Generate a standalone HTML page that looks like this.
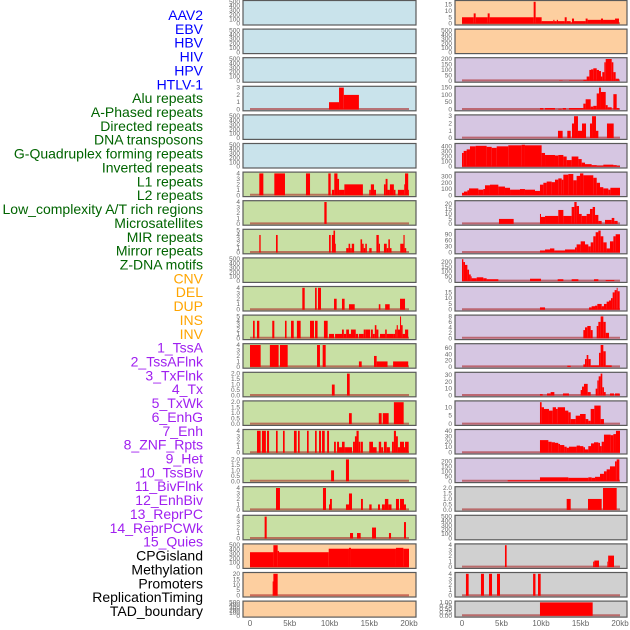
<!DOCTYPE html>
<html><head><meta charset="utf-8"><style>
html,body{margin:0;padding:0;background:#fff;}
svg{display:block;font-family:"Liberation Sans",sans-serif;}
</style></head><body>
<svg id="chart" width="630" height="630" viewBox="0 0 630 630" xmlns="http://www.w3.org/2000/svg"></svg>
<script>
const labels = ["AAV2","EBV","HBV","HIV","HPV","HTLV-1","Alu repeats","A-Phased repeats","Directed repeats","DNA transposons","G-Quadruplex forming repeats","Inverted repeats","L1 repeats","L2 repeats","Low_complexity A/T rich regions","Microsatellites","MIR repeats","Mirror repeats","Z-DNA motifs","CNV","DEL","DUP","INS","INV","1_TssA","2_TssAFlnk","3_TxFlnk","4_Tx","5_TxWk","6_EnhG","7_Enh","8_ZNF_Rpts","9_Het","10_TssBiv","11_BivFlnk","12_EnhBiv","13_ReprPC","14_ReprPCWk","15_Quies","CPGisland","Methylation","Promoters","ReplicationTiming","TAD_boundary"];
const labelGroups = ["virus","virus","virus","virus","virus","virus","repeat","repeat","repeat","repeat","repeat","repeat","repeat","repeat","repeat","repeat","repeat","repeat","repeat","sv","sv","sv","sv","sv","hmm","hmm","hmm","hmm","hmm","hmm","hmm","hmm","hmm","hmm","hmm","hmm","hmm","hmm","hmm","other","other","other","other","other"];
const groupColors = {virus:"#0000ff",repeat:"#006400",sv:"#ffa500",hmm:"#a020f0",other:"#000000"};
const panelBgs = {virus:"#c9e3eb",repeat:"#c8e0a4",sv:"#fdcfa0",hmm:"#d6c6e2",other:"#d0d0d0"};
const T500 = [0,100,200,300,400,500];
const panelTicks = [
T500,T500,T500,[0,1,2,3],T500,T500,[0,1,2,3,4],[0,1,2,3,4],[0,1,2,3,4,5],T500,
[0,1,2,3,4],[0,1,2,3,4,5],[0,1,2,3,4],[0,0.5,1,1.5,2],[0,0.5,1,1.5,2],[0,1,2,3,4],[0,0.5,1,1.5,2],[0,1,2,3,4],[0,1,2,3,4],T500,
[0,5,10,15,20],T500,
[0,5,10,15],T500,[0,50,100,150,200],[0,50,100,150],[0,1,2,3],[0,100,200,300,400],[0,100,200,300],[0,5,10,15,20],[0,30,60,90],[0,50,100,150,200],
[0,5,10,15],[0,2,4,6,8],[0,20,40,60],[0,10,20,30],[0,5,10],[0,10,20,30,40],[0,50,100,150,200],[0,0.5,1,1.5,2],T500,[0,1,2,3,4],[0,1,2,3,4],[0,0.25,0.5,0.75,1]];
// segments: [startKb, endKb, value]
const panelSeries = [
[],[],[],
[[9.94,11.2,1],[11.2,11.8,3],[11.8,13.7,2]],
[],[],
[[1.17,1.68,4],[3.06,4.4,4],[7.04,7.55,4],[9.85,10.15,4],[10.3,10.6,1],[10.6,11.0,4],[11.0,11.2,3],[11.2,11.87,1],[11.87,14.2,2],[15.0,15.2,1],[15.2,15.6,2],[15.6,15.85,1],[16.85,17.06,2],[17.06,17.3,3],[17.3,17.6,1],[17.6,18.1,2],[18.1,18.3,1],[18.6,19.4,1],[19.4,19.5,2],[19.5,19.9,4],[19.9,20.0,1]],
[[9.35,9.64,4]],
[[1.17,1.34,4],[3.27,3.48,4],[9.94,10.15,4],[10.3,10.5,4],[10.5,10.7,5],[10.7,10.8,2],[12.1,12.4,1],[12.4,12.6,2],[12.6,12.8,1],[12.8,13.1,2],[13.9,14.1,3],[14.1,14.3,2],[14.3,14.5,1],[14.5,14.7,2],[15.0,15.3,1],[15.9,16.2,4],[16.2,16.35,2],[16.85,17.2,2],[17.2,17.4,1],[17.4,17.6,3],[17.6,17.8,1],[18.9,19.3,2],[19.3,19.45,4],[19.45,19.65,1]],
[],
[[6.58,6.88,4],[8.18,8.39,4],[8.55,8.93,4],[10.57,10.9,2],[11.57,11.9,2],[12.45,13.17,1],[16.2,16.4,1],[17.0,17.57,1],[18.87,19.5,2]],
[[0.38,0.59,4],[0.88,1.17,4],[2.8,3.06,4],[4.4,4.6,4],[5.16,5.5,4],[5.9,6.37,4],[7.55,8.05,4],[8.18,8.5,4],[9.3,9.77,4],[9.94,10.57,1],[10.7,11.57,1],[11.57,11.8,2],[11.8,12.1,1],[12.1,12.45,2],[12.45,12.7,1],[12.7,13.3,2],[13.3,13.6,1],[13.7,14.3,1],[14.3,14.5,2],[14.5,15.1,2],[15.2,15.45,2],[15.45,15.7,1],[15.7,15.9,3],[15.9,16.15,2],[16.35,17.0,1],[17.0,17.2,2],[17.2,18.0,1],[18.0,18.25,1],[18.25,18.45,2],[18.45,18.6,3],[18.6,18.87,2],[18.87,19.0,5],[19.0,19.2,3],[19.2,19.5,1],[19.5,19.9,2]],
[[0,1.34,4],[2.5,3.6,4],[3.77,4.74,4],[8.43,8.8,4],[9.14,9.52,4],[13.7,14.05,1],[15.6,15.93,2],[15.93,17.3,1],[18.0,19.9,1]],
[[10.3,10.65,1],[12.2,12.54,2]],
[[12.45,12.8,1],[16.2,16.56,1],[16.7,17.44,1],[18.1,19.33,2]],
[[0.88,1.34,4],[1.5,2.0,4],[2.14,2.4,4],[3.27,3.48,4],[4.15,4.36,4],[5.53,5.87,4],[6.04,6.25,4],[7.17,7.38,4],[8.18,8.39,4],[8.68,8.93,4],[9.06,9.4,4],[9.7,9.94,4],[10.57,10.8,2],[10.95,11.2,2],[11.2,11.57,1],[11.57,11.9,2],[11.9,12.07,1],[12.07,12.83,1],[12.96,13.2,2],[13.2,13.4,3],[13.4,13.67,4],[13.67,13.84,2],[13.9,14.2,2],[15.0,15.47,2],[15.47,15.93,1],[16.2,16.5,2],[16.5,16.75,1],[16.85,17.2,2],[17.2,17.6,1],[17.86,18.1,2],[18.1,18.36,4],[18.36,18.6,3],[18.6,18.87,1],[18.87,19.37,2],[19.37,19.5,1],[19.5,19.96,2]],
[[10.2,10.57,1],[12.07,12.45,2]],
[[3.27,3.77,4],[9.18,9.56,4],[9.94,10.06,1],[10.06,10.3,2],[12.07,12.45,1],[12.45,12.83,3],[13.96,14.2,2],[15.0,15.3,1],[16.1,16.35,1],[16.6,16.97,1],[16.97,17.4,2],[17.4,17.8,1],[18.36,18.74,2],[18.87,19.37,2],[19.37,19.62,1]],
[[1.84,2.1,4],[12.58,12.96,1],[13.46,13.92,1],[15.35,15.85,2],[17.48,17.74,1],[19.37,19.62,3]],
[[0,2.94,340],[2.94,3.48,500],[3.48,3.65,370],[3.65,9.9,340],[9.9,12.45,420],[12.45,12.7,440],[12.7,18.36,420],[18.36,19.29,440],[19.29,20.0,420]],
[[2.85,2.94,13],[2.94,3.48,20]],
[],
[[0,1.48,5],[1.48,1.73,8],[1.73,3.25,5],[3.25,3.5,8],[3.5,9.07,5],[9.07,9.32,17],[9.32,10.08,5],[10.08,11.56,2],[11.56,11.7,3],[11.7,12.0,2],[12.0,12.15,3],[12.15,13.0,2],[13.0,13.25,5],[13.25,13.76,2],[13.76,13.92,1],[13.92,14.18,4],[14.18,15.65,2],[15.65,15.9,4],[15.9,17.59,3],[17.59,17.85,4],[17.85,19.37,3],[19.37,19.87,4]],
[],
[[12.28,12.74,3],[13.54,15.36,3],[15.36,15.78,10],[15.78,16.12,40],[16.12,16.33,100],[16.33,16.62,105],[16.62,17.05,115],[17.05,17.34,100],[17.34,17.59,90],[17.59,17.76,40],[17.76,18.02,80],[18.02,18.19,170],[18.19,18.95,200],[18.95,19.16,170],[19.16,19.45,80],[19.45,19.87,20]],
[[9.87,10.3,10],[10.5,11.77,10],[12.19,12.62,5],[12.74,13.16,10],[13.54,15.36,10],[15.36,15.65,40],[15.65,16.29,70],[16.29,16.62,20],[16.62,17.05,25],[17.05,17.34,110],[17.34,17.59,150],[17.59,18.19,120],[18.19,18.44,30],[18.44,18.95,15],[19.16,19.58,105],[19.58,19.87,10]],
[[12.15,12.74,1],[13.33,13.76,1],[13.92,14.18,2],[14.18,14.68,3],[14.68,15.19,1],[15.19,15.7,2],[16.2,16.46,2],[16.46,16.96,3],[16.96,17.26,1],[18.35,19.2,2]],
[[0,0.21,270],[0.21,0.59,310],[0.59,1.01,340],[1.01,1.73,400],[1.73,3.12,410],[3.12,3.76,390],[3.76,4.39,370],[4.39,5.86,400],[5.86,7.55,420],[7.55,7.97,430],[7.97,10.08,420],[10.08,10.51,270],[10.51,11.77,230],[11.77,12.19,220],[12.19,12.83,230],[12.83,13.25,200],[13.25,13.88,130],[13.88,14.73,200],[14.73,15.15,150],[15.15,15.57,80],[15.57,16.41,50],[16.41,17.05,30],[17.05,17.89,20],[17.89,19.16,40],[19.16,19.58,30],[19.58,20,15]],
[[0,0.25,40],[0.25,0.68,60],[0.68,0.89,80],[0.89,2.07,110],[2.07,2.7,90],[2.7,2.91,100],[2.91,3.54,160],[3.54,4.6,170],[4.6,5.44,140],[5.44,6.08,120],[6.08,7.34,90],[7.34,7.97,100],[7.97,9.24,90],[9.24,9.87,70],[9.87,10.3,170],[10.3,10.72,200],[10.72,11.35,220],[11.35,11.77,210],[11.77,12.19,250],[12.19,12.62,270],[12.62,12.83,250],[12.83,13.46,330],[13.46,14.09,340],[14.09,14.51,240],[14.51,14.94,310],[14.94,15.36,350],[15.36,16.62,320],[16.62,17.05,280],[17.05,17.47,200],[17.47,17.89,130],[17.89,18.52,110],[18.52,18.78,90],[18.78,20,120]],
[[4.68,6.54,5],[9.87,10.0,10],[10.0,10.51,7],[10.51,12.19,8],[12.19,12.83,14],[12.83,13.88,8],[13.88,14.22,17],[14.22,14.51,22],[14.51,14.81,18],[14.81,15.15,10],[15.15,15.78,8],[15.78,16.2,10],[16.2,16.54,15],[16.54,16.84,17],[16.84,17.26,9],[17.26,17.68,3],[18.1,18.95,4],[18.95,19.28,6],[19.28,19.7,3]],
[[9.87,10.51,10],[10.51,11.14,15],[11.14,11.69,20],[11.69,13.04,10],[13.04,14.3,15],[14.3,14.51,25],[14.51,15.02,40],[15.02,15.57,55],[15.57,15.99,40],[15.99,16.29,30],[16.29,16.62,50],[16.62,16.92,80],[16.92,17.26,100],[17.26,17.55,108],[17.55,17.89,80],[17.89,18.31,50],[18.31,18.73,20],[18.73,19.16,55],[19.16,19.45,80],[19.45,20,90]],
[[0,0.17,230],[0.17,0.38,200],[0.38,0.68,170],[0.68,0.89,120],[0.89,1.1,70],[1.1,1.22,50],[1.22,1.86,30],[1.86,2.7,40],[2.7,3.12,30],[3.12,4.6,20],[8.61,10.0,25],[12.11,12.83,20],[13.88,14.73,20],[16.71,17.26,20],[18.19,19.28,10]],
[[9.87,10.51,2],[16.08,16.41,2],[16.41,16.84,3],[16.84,17.13,3.5],[17.13,17.68,5],[17.68,17.97,3],[17.97,18.31,5],[18.31,18.61,7],[18.61,18.86,8],[18.86,19.07,10],[19.07,19.32,15],[19.32,19.58,17],[19.58,19.7,19],[19.7,19.96,16]],
[[15.36,15.57,3],[15.57,15.86,4],[15.86,16.29,4.5],[16.29,16.54,3],[17.05,17.26,4.5],[17.26,17.55,6],[17.55,17.89,8],[17.89,18.19,6],[18.19,18.61,2]],
[[13.33,13.76,4],[15.36,15.57,8],[15.57,15.78,25],[15.78,15.99,38],[15.99,16.29,25],[16.29,17.34,5],[17.34,17.55,45],[17.55,17.89,70],[17.89,18.19,50],[18.19,18.95,5]],
[[9.87,10.21,2],[10.76,11.22,3],[11.22,11.69,5],[12.78,13.54,3],[15.02,15.19,8],[15.19,15.44,13],[15.44,15.91,17],[15.91,16.29,5],[16.92,17.13,10],[17.13,17.3,22],[17.3,17.55,28],[17.55,17.76,32],[17.76,17.97,12],[17.97,18.19,5],[18.73,19.24,3],[19.37,19.96,3]],
[[9.87,10.08,13],[10.08,10.38,10],[10.38,11.01,9],[11.01,11.48,8],[11.48,11.9,10],[11.9,12.11,9],[12.11,13.04,10],[13.04,13.46,8],[13.46,13.76,7],[13.76,14.39,3],[14.39,14.94,5],[14.94,15.65,6],[15.65,15.99,3],[15.99,16.29,2],[16.29,16.75,9],[16.75,17.55,11],[17.55,17.97,3]],
[[9.87,10.93,23],[10.93,11.35,20],[11.35,11.77,19],[11.77,12.19,18],[12.19,12.41,16],[12.41,12.95,14],[12.95,13.25,11],[13.25,13.54,9],[13.54,14.51,11],[14.51,14.94,13],[14.94,15.36,12],[15.36,15.57,10],[15.57,15.99,6],[15.99,16.33,12],[16.33,16.71,17],[16.71,17.26,19],[17.26,17.47,18],[17.47,17.68,12],[17.68,17.97,20],[17.97,18.82,33],[18.82,19.16,32],[19.16,19.49,34],[19.49,20,40]],
[[5.78,9.87,10],[9.87,13.46,40],[13.46,15.99,35],[15.99,16.41,40],[16.41,16.84,35],[16.84,17.47,45],[17.47,17.97,75],[17.97,18.31,100],[18.31,18.73,120],[18.73,19.37,150],[19.37,19.58,200],[19.58,19.92,220]],
[[13.25,13.76,1],[15.95,17.68,1],[17.85,19.58,2]],
[],
[[5.44,5.65,4],[16.6,16.75,1],[16.75,17.34,1.2],[18.4,18.5,1],[18.5,19.24,2.1]],
[[0.5,0.84,4],[2.4,2.78,4],[3.42,3.8,4],[4.43,4.81,4],[9.0,9.3,4],[9.62,9.96,4]],
[[9.87,16.54,1]]
];
const xTickLabels = ["0","5kb","10kb","15kb","20kb"];
const xTickKb = [0,5,10,15,20];

const NS = "http://www.w3.org/2000/svg";
const svg = document.getElementById("chart");
function mk(tag, attrs, parent){const e=document.createElementNS(NS,tag);for(const k in attrs)e.setAttribute(k,attrs[k]);(parent||svg).appendChild(e);return e;}
const slug = s => s.toLowerCase().replace(/[^a-z0-9]+/g,'-').replace(/^-|-$/g,'');

labels.forEach((lab,i)=>{
  const t = mk("text",{x:203,y:15+i*13.86+5,"text-anchor":"end","font-size":"14",fill:groupColors[labelGroups[i]]});
  t.textContent = lab;
  
  
});

const cols = [{x:243,w:173,x0:250,k:7.95},{x:455,w:172,x0:462,k:7.9}];
const pitch = 28.6;
panelSeries.forEach((segs,i)=>{
  const col = cols[i<22?0:1];
  const row = i%22;
  const top = row*pitch+0.5;
  const ph = row===21 ? 16 : 24.5;
  const g = mk("g",{});
  
  
  const bg = mk("rect",{x:col.x,y:top,width:col.w,height:ph,fill:panelBgs[labelGroups[i]],stroke:"#5a5a5a","stroke-width":1.2},g);
  
  
  const ticks = panelTicks[i];
  let ymax = ticks[ticks.length-1];
  segs.forEach(s=>{ if(s[2]>ymax) ymax=s[2]; });
  const yb = top+ph-1.3, yt = top+1.3;
  const ys = v => yb - (v/ymax)*(yb-yt);
  const xs = kb => col.x0 + kb*col.k;
  ticks.forEach(tv=>{
    const t = mk("text",{x:col.x-3,y:ys(tv)+2,"text-anchor":"end","font-size":"6.5",fill:"#666"},g);
    t.textContent = (ticks[ticks.length-1] <= 2 && ticks.length>3) ? (ticks[1]===0.25? tv.toFixed(2): tv.toFixed(1)) : String(tv);
    
    
  });
  if(segs.length){
    const bl = mk("line",{x1:xs(0),x2:xs(20),y1:yb-0.5,y2:yb-0.5,stroke:"rgba(170,40,40,0.6)","stroke-width":2},g);
    
    
  }
  segs.forEach(s=>{
    const x1 = xs(s[0]), x2 = xs(s[1]), y = ys(s[2]);
    const r = mk("rect",{x:x1,y:y,width:Math.max(0.8,x2-x1),height:yb-y,fill:"#ff0000"},g);
    
    
  });
});

cols.forEach((col,ci)=>{
  xTickKb.forEach((kb,j)=>{
    const t = mk("text",{x:col.x0+kb*col.k,y:626,"text-anchor":"middle","font-size":"8",fill:"#666"});
    t.textContent = xTickLabels[j];
    
    
  });
});
</script>
</body></html>
